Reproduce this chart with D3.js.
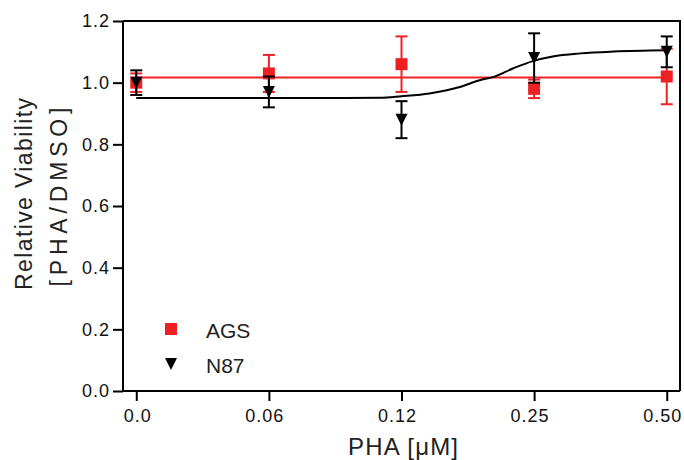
<!DOCTYPE html>
<html>
<head>
<meta charset="utf-8">
<script src="https://cdn.jsdelivr.net/npm/d3@7"></script>
<style>
  body { margin: 0; background: #fff; }
  svg { font-family: "Liberation Sans", Arial, sans-serif; }
</style>
</head>
<body>
<svg id="chart" width="684" height="460"></svg>
<script>
// doses are plotted at equal spacing (index positions)
const doseLabels = ["0.0", "0.06", "0.12", "0.25", "0.50"];
const doseIndex = [0, 1, 2, 3, 4];

const agsMean = [1.00, 1.03, 1.06, 0.98, 1.02];
const agsErr = [0.03, 0.06, 0.09, 0.03, 0.09];
const n87Mean = [1.00, 0.97, 0.88, 1.08, 1.10];
const n87Err = [0.04, 0.05, 0.06, 0.08, 0.05];

// fitted curves
const agsFitX = [0, 4];
const agsFitY = [1.017, 1.017];
const n87FitX = [0, 1, 1.84, 2.0, 2.21, 2.44, 2.59, 2.69, 2.84, 2.99, 3.14, 3.35, 3.6, 4.0];
const n87FitY = [0.950, 0.950, 0.951, 0.956, 0.965, 0.986, 1.008, 1.018, 1.046, 1.070, 1.085, 1.095, 1.101, 1.105];

const yTicks = [0, 0.2, 0.4, 0.6, 0.8, 1.0, 1.2];

const red = "#ed2024";
const black = "#000";

const plotLeft = 123, plotRight = 680, plotTop = 21, plotBottom = 391;

let svg = d3.select("#chart");

let x = d3.scaleLinear().domain([-0.1, 4.1]).range([plotLeft, plotRight]);
let y = d3.scaleLinear().domain([0, 1.2]).range([plotBottom, plotTop]);

// frame (top and right)
svg.append("path")
  .attr("d", `M${plotLeft},${plotTop}H${plotRight}V${plotBottom}`)
  .attr("fill", "none")
  .attr("stroke", "#000")
  .attr("stroke-width", 2);

let yAxis = svg.append("g")
  .attr("transform", `translate(${plotLeft},0)`)
  .call(d3.axisLeft(y).tickValues(yTicks).tickFormat(d3.format(".1f")).tickSize(10).tickPadding(3));

let xAxis = svg.append("g")
  .attr("transform", `translate(0,${plotBottom})`)
  .call(d3.axisBottom(x).tickValues(doseIndex).tickFormat((d, i) => doseLabels[i]).tickSize(10).tickPadding(8));

[yAxis, xAxis].forEach((g) => {
  g.select(".domain").attr("stroke-width", 2);
  g.selectAll(".tick line").attr("stroke-width", 2);
  g.selectAll(".tick text")
    .attr("fill", "#111")
    .style("font-size", "18px")
    .style("letter-spacing", "1px")
    .style("font-family", '"Liberation Sans", Arial, sans-serif');
});
// x labels sit right-aligned a little past the tick, as in the original
xAxis.selectAll(".tick text").attr("text-anchor", "end").attr("dx", 15);
xAxis.select(".domain").attr("d", `M${plotLeft},0H${plotRight}`);
yAxis.select(".domain").attr("d", `M0,${plotTop}V${plotBottom + 1}`);

// axis titles
svg.append("text")
  .attr("x", 403).attr("y", 455)
  .attr("text-anchor", "middle")
  .attr("textLength", 110)
  .attr("font-size", 24)
  .attr("fill", "#222")
  .text("PHA [\u03bcM]");

svg.append("text")
  .attr("transform", "translate(32,194) rotate(-90)")
  .attr("text-anchor", "middle")
  .attr("textLength", 192)
  .attr("font-size", 23)
  .attr("fill", "#222")
  .text("Relative Viability");

svg.append("text")
  .attr("transform", "translate(67,197) rotate(-90)")
  .attr("text-anchor", "middle")
  .attr("textLength", 179)
  .attr("font-size", 23)
  .attr("fill", "#222")
  .text("[PHA/DMSO]");

// fit lines
let line = d3.line().x((d) => x(d[0])).y((d) => y(d[1])).curve(d3.curveMonotoneX);

svg.append("path")
  .attr("d", line(d3.zip(agsFitX, agsFitY)))
  .attr("fill", "none")
  .attr("stroke", red)
  .attr("stroke-width", 2);

svg.append("path")
  .attr("d", line(d3.zip(n87FitX, n87FitY)))
  .attr("fill", "none")
  .attr("stroke", black)
  .attr("stroke-width", 2);

let drawErrors = (means, errs, color) => {
  let g = svg.append("g").attr("stroke", color).attr("stroke-width", 2);
  doseIndex.forEach((d, i) => {
    let cx = x(d);
    let y1 = y(means[i] + errs[i]);
    let y2 = y(means[i] - errs[i]);
    g.append("line").attr("x1", cx).attr("x2", cx).attr("y1", y1).attr("y2", y2);
    g.append("line").attr("x1", cx - 6).attr("x2", cx + 6).attr("y1", y1).attr("y2", y1);
    g.append("line").attr("x1", cx - 6).attr("x2", cx + 6).attr("y1", y2).attr("y2", y2);
  });
};

const squarePath = "M-6,-6H6V6H-6Z";
const trianglePath = "M-6,-6L6,-6L0,6Z";

// AGS
drawErrors(agsMean, agsErr, red);
svg.append("g")
  .selectAll("path")
  .data(doseIndex)
  .enter()
  .append("path")
  .attr("d", squarePath)
  .attr("transform", (d, i) => `translate(${x(d)},${y(agsMean[i])})`)
  .attr("fill", red);

// N87
drawErrors(n87Mean, n87Err, black);
svg.append("g")
  .selectAll("path")
  .data(doseIndex)
  .enter()
  .append("path")
  .attr("d", trianglePath)
  .attr("transform", (d, i) => `translate(${x(d)},${y(n87Mean[i])})`)
  .attr("fill", black);

// legend
svg.append("path").attr("d", squarePath).attr("transform", "translate(171,329)").attr("fill", red);
svg.append("path").attr("d", trianglePath).attr("transform", "translate(171,364)").attr("fill", black);
svg.append("text").attr("x", 206).attr("y", 338).attr("font-size", 21).attr("fill", "#222").text("AGS");
svg.append("text").attr("x", 206).attr("y", 373).attr("font-size", 21).attr("fill", "#222").text("N87");
</script>
</body>
</html>
